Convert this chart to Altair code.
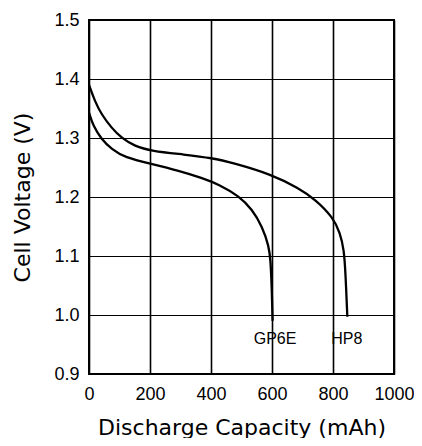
import altair as alt
import pandas as pd

# HP8 (upper curve)
hp8_x = [0, 19.5, 41, 74, 106.5, 150, 204, 313, 405, 470, 600, 687, 742, 801, 823, 836, 841, 847]
hp8_v = [1.390, 1.362, 1.340, 1.317, 1.300, 1.286, 1.278, 1.272, 1.266, 1.258, 1.238, 1.215,
         1.196, 1.165, 1.139, 1.111, 1.071, 0.997]

# GP6E (lower curve)
gp6e_x = [0, 14, 41, 74, 117, 204, 291, 372, 427, 492, 535, 568, 590, 595, 599, 602]
gp6e_v = [1.343, 1.320, 1.298, 1.281, 1.267, 1.256, 1.245, 1.232, 1.221, 1.2015, 1.179,
          1.150, 1.116, 1.094, 1.05, 0.99]

label_names = ["GP6E", "HP8"]
label_x = [610, 845]
label_v = [0.959, 0.959]

x_ticks = [0, 200, 400, 600, 800, 1000]
y_ticks = [0.9, 1.0, 1.1, 1.2, 1.3, 1.4, 1.5]

curves = pd.DataFrame({
    "cap": hp8_x + gp6e_x,
    "v": hp8_v + gp6e_v,
    "series": ["HP8"] * len(hp8_x) + ["GP6E"] * len(gp6e_x),
})
labels = pd.DataFrame({"name": label_names, "cap": label_x, "v": label_v})

FONT = "DejaVu Sans"
LABEL_FONT = "Liberation Sans"

x_enc = alt.X("cap:Q", scale=alt.Scale(domain=[0, 1000], nice=False),
              axis=alt.Axis(values=x_ticks, format="d", title="Discharge Capacity (mAh)", grid=True,
                            gridColor="black", gridWidth=1.6, gridOpacity=1,
                            labelOverlap=False, labelFlush=False,
                            labelPadding=11, titleY=60, titleBaseline="alphabetic"))
y_enc = alt.Y("v:Q", scale=alt.Scale(domain=[0.9, 1.5], nice=False, zero=False),
              axis=alt.Axis(values=y_ticks, format=".1f", title="Cell Voltage (V)", grid=True,
                            gridColor="black", gridWidth=1.2, gridOpacity=1,
                            labelOverlap=False, labelFlush=False,
                            labelPadding=10, titleX=-60, titleBaseline="alphabetic"))

lines = alt.Chart(curves).mark_line(color="black", strokeWidth=2.3, interpolate="basis").encode(
    x=x_enc, y=y_enc, detail="series:N", order="cap:Q"
)

texts = alt.Chart(labels).mark_text(font=LABEL_FONT, fontSize=16, color="black", baseline="middle",
                                    align="center").encode(
    x="cap:Q", y="v:Q", text="name:N"
)

chart = alt.layer(lines, texts).properties(
    width=305, height=354,
    autosize=alt.AutoSizeParams(type="none"),
    padding={"left": 81, "top": 12, "right": 20, "bottom": 64},
    background="white",
).configure_view(
    stroke="black", strokeWidth=2
).configure_axis(
    domain=False, ticks=False,
    labelFont=LABEL_FONT, labelFontSize=18, labelColor="black",
    titleFont=FONT, titleFontSize=22, titleFontWeight="normal", titleColor="black",
)

chart.save("out.html", embed_options={"renderer": "svg", "actions": False})
